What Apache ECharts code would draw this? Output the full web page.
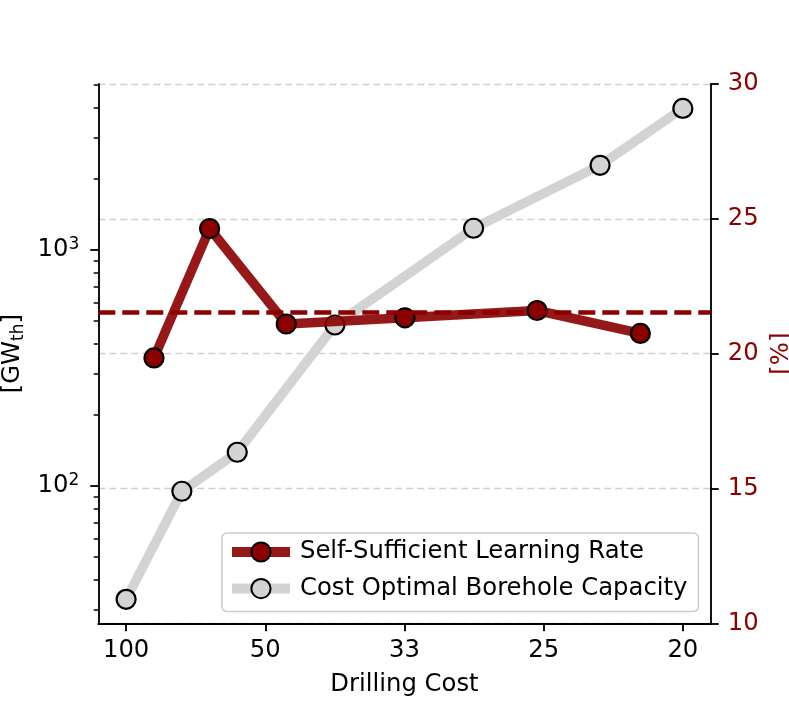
<!DOCTYPE html>
<html><head><meta charset="utf-8">
<script src="https://cdn.jsdelivr.net/npm/echarts@6/dist/echarts.min.js"></script>
<style>html,body{margin:0;padding:0;background:#fff}#c{width:789px;height:701px}</style>
</head><body><div id="c"></div>
<script>
// Drilling cost tick marks (axis is linear in 1/cost)
const xTickCosts = [100, 50, 33.333, 25, 20];
const xTickLabels = ['100', '50', '33', '25', '20'];
// Cost Optimal Borehole Capacity [GW_th] (left, log axis)
const capacityCosts = [100, 71.4, 55.6, 40, 28.6, 22.7, 20];
const capacityGW = [33.1, 95, 139, 481, 1236, 2285, 3980];
// Self-Sufficient Learning Rate [%] (right axis)
const learningCosts = [83.3, 62.5, 46.5, 33.3, 25.3, 21.3];
const learningRate = [19.84, 24.64, 21.10, 21.33, 21.60, 20.75];
const meanLearningRate = 21.55;
// Axis ticks
const leftMajorTicks = [100, 1000];
const leftMinorTicks = [30, 40, 50, 60, 70, 80, 90, 200, 300, 400, 500, 600, 700, 800, 900, 2000, 3000, 4000, 5000];
const rightTicks = [10, 15, 20, 25, 30];

const FONT = 'DejaVu Sans';
const FS = 24.3;
const RED = '#8b0000';
const GRAY = '#d3d3d3';
const pos = c => 100 / c - 1;
const xTickPos = xTickCosts.map(pos);

const chart = echarts.init(document.getElementById('c'));
chart.setOption({
  animation: false,
  backgroundColor: '#fff',
  textStyle: { fontFamily: FONT },
  grid: { left: 98.3, right: 78.3, top: 84, bottom: 77.7, containLabel: false, outerBoundsMode: 'none' },
  legend: {
    orient: 'vertical',
    left: 222, top: 533,
    padding: [7, 11, 11, 5],
    itemGap: 12.6,
    itemWidth: 58, itemHeight: 24,
    backgroundColor: 'rgba(255,255,255,0.8)',
    borderColor: '#cccccc', borderWidth: 1.5, borderRadius: 5,
    lineStyle: { width: 10 },
    textStyle: { fontFamily: FONT, fontSize: FS, color: '#000', padding: [0, 0, 0, 5] },
    data: ['Self-Sufficient Learning Rate', 'Cost Optimal Borehole Capacity']
  },
  xAxis: {
    type: 'value', min: -0.2, max: 4.2,
    name: 'Drilling Cost', nameLocation: 'middle', nameGap: 49,
    nameTextStyle: { fontFamily: FONT, fontSize: FS, color: '#000' },
    axisLine: { show: true, onZero: false, lineStyle: { color: '#000', width: 1.85 } },
    axisTick: { show: true, length: 8, lineStyle: { color: '#000', width: 1.85 }, customValues: xTickPos },
    axisLabel: { customValues: xTickPos, margin: 15, fontFamily: FONT, fontSize: FS, color: '#000',
      formatter: v => { let i = xTickPos.findIndex(p => Math.abs(p - v) < 1e-6); return i >= 0 ? xTickLabels[i] : ''; } },
    splitLine: { show: false }
  },
  yAxis: [
    {
      type: 'log', position: 'left', min: 26.2, max: 5050, logBase: 10,
      name: '[GW{sub|th}]', nameLocation: 'middle', nameGap: 70, nameRotate: 90,
      nameTextStyle: { fontFamily: FONT, fontSize: FS, color: '#000', lineHeight: 27,
        rich: { sub: { fontFamily: FONT, fontSize: 17, lineHeight: 17, verticalAlign: 'bottom', color: '#000' } } },
      axisLine: { show: true, onZero: false, lineStyle: { color: '#000', width: 1.85 } },
      axisTick: { show: true, length: 8, lineStyle: { color: '#000', width: 1.85 }, customValues: leftMajorTicks },
      axisLabel: { customValues: leftMajorTicks, margin: 19, fontFamily: FONT, fontSize: FS, color: '#000',
        formatter: v => '10{sup|' + Math.round(Math.log10(v)) + '}',
        lineHeight: 27,
        rich: { sup: { fontFamily: FONT, fontSize: 17, lineHeight: 17, verticalAlign: 'top', color: '#000' } } },
      splitLine: { show: false }
    },
    {
      type: 'value', position: 'right', min: 10, max: 30, interval: 5,
      name: '[%]', nameLocation: 'middle', nameGap: 55, nameRotate: 90,
      nameTextStyle: { fontFamily: FONT, fontSize: FS, color: RED },
      axisLine: { show: true, onZero: false, lineStyle: { color: '#000', width: 1.85 } },
      axisTick: { show: true, length: 8, lineStyle: { color: '#000', width: 1.85 } },
      axisLabel: { margin: 17, fontFamily: FONT, fontSize: FS, color: RED },
      splitLine: { show: true, lineStyle: { color: '#d0d0d0', width: 1.4, type: [7, 4] } }
    },
    {
      type: 'log', position: 'left', min: 26.2, max: 5050, logBase: 10,
      axisLine: { show: false, onZero: false },
      axisTick: { show: true, length: 4.6, lineStyle: { color: '#000', width: 1.5 }, customValues: leftMinorTicks },
      axisLabel: { show: false },
      splitLine: { show: false }
    }
  ],
  series: [
    {
      name: 'Cost Optimal Borehole Capacity',
      type: 'line', xAxisIndex: 0, yAxisIndex: 0, z: 2,
      data: capacityCosts.map((c, i) => [pos(c), capacityGW[i]]),
      symbol: 'circle', symbolSize: 19,
      itemStyle: { color: GRAY, borderColor: '#000', borderWidth: 2.2 },
      lineStyle: { color: GRAY, width: 9.5 }
    },
    {
      name: 'Self-Sufficient Learning Rate',
      type: 'line', xAxisIndex: 0, yAxisIndex: 1, z: 3,
      data: learningCosts.map((c, i) => [pos(c), learningRate[i]]),
      symbol: 'circle', symbolSize: 19,
      itemStyle: { color: RED, borderColor: '#000', borderWidth: 2.2 },
      lineStyle: { color: 'rgba(139,0,0,0.9)', width: 9.5 },
      markLine: {
        silent: true, symbol: ['none', 'none'], label: { show: false },
        lineStyle: { color: RED, type: [17, 7], width: 4.5 },
        data: [{ yAxis: meanLearningRate }]
      }
    }
  ]
});
</script></body></html>
